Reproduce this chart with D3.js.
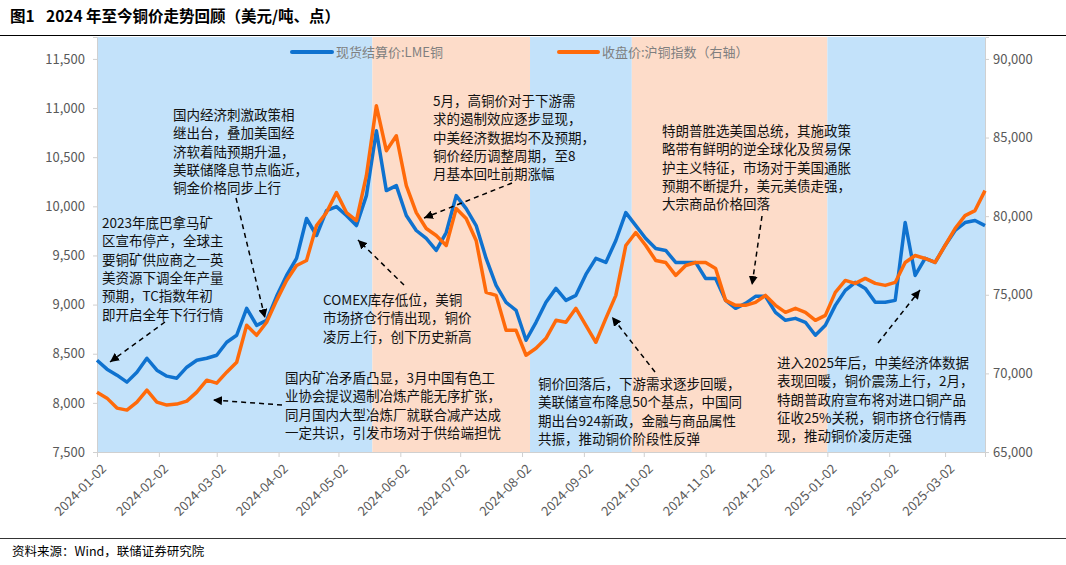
<!DOCTYPE html>
<html>
<head>
<meta charset="utf-8">
<script src="https://cdn.jsdelivr.net/npm/d3@7"></script>
<style>
  body { margin: 0; background: #fff; }
  text { font-family: "Noto Sans CJK SC", "Noto Sans", sans-serif; }
</style>
</head>
<body>
<div class="container"></div>
<script>
// Dates sampled every five days
const dates = [
  "2024-01-02","2024-01-07","2024-01-12","2024-01-17","2024-01-22","2024-01-27","2024-02-01","2024-02-06","2024-02-11","2024-02-16",
  "2024-02-21","2024-02-26","2024-03-02","2024-03-07","2024-03-12","2024-03-17","2024-03-22","2024-03-27","2024-04-01","2024-04-06",
  "2024-04-11","2024-04-16","2024-04-21","2024-04-26","2024-05-01","2024-05-06","2024-05-11","2024-05-16","2024-05-21","2024-05-26",
  "2024-05-31","2024-06-05","2024-06-10","2024-06-15","2024-06-20","2024-06-25","2024-06-30","2024-07-05","2024-07-10","2024-07-15",
  "2024-07-20","2024-07-25","2024-07-30","2024-08-04","2024-08-09","2024-08-14","2024-08-19","2024-08-24","2024-08-29","2024-09-03",
  "2024-09-08","2024-09-13","2024-09-18","2024-09-23","2024-09-28","2024-10-03","2024-10-08","2024-10-13","2024-10-18","2024-10-23",
  "2024-10-28","2024-11-02","2024-11-07","2024-11-12","2024-11-17","2024-11-22","2024-11-27","2024-12-02","2024-12-07","2024-12-12",
  "2024-12-17","2024-12-22","2024-12-27","2025-01-01","2025-01-06","2025-01-11","2025-01-16","2025-01-21","2025-01-26","2025-01-31",
  "2025-02-05","2025-02-10","2025-02-15","2025-02-20","2025-02-25","2025-03-02","2025-03-07","2025-03-12","2025-03-17","2025-03-22"
];
// LME copper settlement price (left axis)
const lme = [
  8434,8343,8282,8211,8312,8454,8332,8272,8251,8363,
  8434,8454,8485,8617,8688,8962,8789,8840,9084,9297,
  9470,9876,9703,9957,9997,9906,9804,10109,10769,10160,
  10211,9906,9754,9673,9551,9733,10109,9977,9804,9470,
  9195,9023,8942,8637,8820,9023,9165,9043,9094,9307,
  9470,9429,9652,9936,9804,9673,9571,9551,9429,9429,
  9429,9266,9266,9043,8962,9013,9084,9084,8921,8840,
  8860,8820,8688,8789,8992,9145,9226,9165,9023,9023,
  9043,9835,9297,9470,9429,9602,9754,9835,9856,9804
];
// SHFE copper index close (right axis)
const shfe = [
  68807,68426,67792,67665,68173,68934,68173,67982,68046,68236,
  68807,69568,69378,70076,70711,73058,72424,73249,74644,75913,
  76865,77182,79403,80228,81497,80228,79720,82576,87017,84162,
  85114,81941,80228,79213,78769,78134,80482,79847,78451,75152,
  74962,72741,72741,71155,71599,72233,73375,73249,74137,73058,
  71979,73502,74962,78134,78959,78134,77182,77055,76231,76865,
  77055,77055,76675,74644,74327,74327,74517,74962,74327,73883,
  74137,73883,73375,73692,75152,75913,75723,76040,75723,75596,
  75786,77055,77499,77309,77055,78134,79213,80038,80355,81624
];
const xTicks = ["2024-01-02","2024-02-02","2024-03-02","2024-04-02","2024-05-02","2024-06-02","2024-07-02","2024-08-02",
  "2024-09-02","2024-10-02","2024-11-02","2024-12-02","2025-01-02","2025-02-02","2025-03-02"];
const leftTicks = [7500,8000,8500,9000,9500,10000,10500,11000,11500];
const rightTicks = [65000,70000,75000,80000,85000,90000];
// Shaded phases
const phases = [
  {from: "2024-01-02", to: "2024-05-19", kind: "up"},
  {from: "2024-05-19", to: "2024-08-06", kind: "down"},
  {from: "2024-08-06", to: "2024-09-26", kind: "up"},
  {from: "2024-09-26", to: "2025-01-02", kind: "down"},
  {from: "2025-01-02", to: "2025-03-22", kind: "up"}
];
const notes = [
  {x: 102, y: 223, lines: ["2023年底巴拿马矿","区宣布停产，全球主","要铜矿供应商之一英","美资源下调全年产量","预期，TC指数年初","即开启全年下行行情"], arrow: [165,322,110,362]},
  {x: 173, y: 115, lines: ["国内经济刺激政策相","继出台，叠加美国经","济软着陆预期升温，","美联储降息节点临近，","铜金价格同步上行"], arrow: [236,198,265,318]},
  {x: 323, y: 300, lines: ["COMEX库存低位，美铜","市场挤仓行情出现，铜价","凌厉上行，创下历史新高"], arrow: [404,285,358,240]},
  {x: 433, y: 101, lines: ["5月，高铜价对于下游需","求的遏制效应逐步显现，","中美经济数据均不及预期，","铜价经历调整周期，至8","月基本回吐前期涨幅"], arrow: [512,183,424,218]},
  {x: 285, y: 378, lines: ["国内矿冶矛盾凸显，3月中国有色工","业协会提议遏制冶炼产能无序扩张，","同月国内大型冶炼厂就联合减产达成","一定共识，引发市场对于供给端担忧"], arrow: [282,405,213,400]},
  {x: 538, y: 384, lines: ["铜价回落后，下游需求逐步回暖，","美联储宣布降息50个基点，中国同","期出台924新政，金融与商品属性","共振，推动铜价阶段性反弹"], arrow: [655,372,612,317]},
  {x: 662, y: 131, lines: ["特朗普胜选美国总统，其施政策","略带有鲜明的逆全球化及贸易保","护主义特征，市场对于美国通胀","预期不断提升，美元美债走强，","大宗商品价格回落"], arrow: [762,216,752,285]},
  {x: 777, y: 363, lines: ["进入2025年后，中美经济体数据","表现回暖，铜价震荡上行，2月，","特朗普政府宣布将对进口铜产品","征收25%关税，铜市挤仓行情再","现，推动铜价凌厉走强"], arrow: [878,343,920,290]}
];

const width = 1066, height = 565;
const plot = {left: 97, right: 985, top: 37, bottom: 452};
const parse = d3.timeParse("%Y-%m-%d");

const svg = d3.select(".container").append("svg")
  .attr("width", width).attr("height", height);

const x = d3.scaleTime()
  .domain([parse("2024-01-02"), parse("2025-03-22")])
  .range([plot.left, plot.right]);
const yL = d3.scaleLinear().domain([7500, 11723]).range([plot.bottom, plot.top]);
const yR = d3.scaleLinear().domain([65000, 91395]).range([plot.bottom, plot.top]);

// Title and rules
svg.append("text").attr("x", 10).attr("y", 22)
  .attr("font-size", 15.5).attr("font-weight", "bold").attr("fill", "#000")
  .text("图1");
svg.append("text").attr("x", 46).attr("y", 22)
  .attr("font-size", 15.5).attr("font-weight", "bold").attr("fill", "#000")
  .text("2024 年至今铜价走势回顾（美元/吨、点）");
svg.append("line").attr("x1", 0).attr("x2", width).attr("y1", 35.5).attr("y2", 35.5)
  .attr("stroke", "#000").attr("stroke-width", 1);
svg.append("line").attr("x1", 0).attr("x2", width).attr("y1", 538.5).attr("y2", 538.5)
  .attr("stroke", "#000").attr("stroke-width", 0.8);
svg.append("text").attr("x", 12).attr("y", 556).attr("font-size", 12.5).attr("fill", "#000")
  .text("资料来源：Wind，联储证券研究院");

// Phase bands
svg.append("g").selectAll("rect").data(phases).enter().append("rect")
  .attr("x", d => x(parse(d.from)))
  .attr("width", d => x(parse(d.to)) - x(parse(d.from)))
  .attr("y", plot.top).attr("height", plot.bottom - plot.top)
  .attr("fill", d => d.kind === "up" ? "#c3e2fa" : "#fddcc9");

// Axes
const fmt = d3.format(",");
const axL = svg.append("g").attr("transform", `translate(${plot.left},0)`)
  .call(d3.axisLeft(yL).tickValues(leftTicks).tickFormat(fmt).tickSize(4));
const axR = svg.append("g").attr("transform", `translate(${plot.right},0)`)
  .call(d3.axisRight(yR).tickValues(rightTicks).tickFormat(fmt).tickSize(4));
[axL, axR].forEach(a => {
  a.select(".domain").attr("stroke", "#d0d0d0");
  a.selectAll(".tick line").attr("stroke", "#d0d0d0");
  a.selectAll("text").attr("font-size", 13).attr("fill", "#595959")
    .attr("font-family", "Liberation Sans, Arial, sans-serif");
});
axL.selectAll("text").attr("x", -12);
axR.selectAll("text").attr("x", 8);
const axB = svg.append("g").attr("transform", `translate(0,${plot.bottom})`)
  .call(d3.axisBottom(x).tickValues(xTicks.map(parse)).tickFormat(d3.timeFormat("%Y-%m-%d")).tickSize(5));
axB.select(".domain").attr("stroke", "#d0d0d0");
axB.selectAll(".tick line").attr("stroke", "#d0d0d0");
axB.selectAll("text").attr("font-size", 13).attr("fill", "#595959")
  .attr("font-family", "Liberation Sans, Arial, sans-serif")
  .attr("text-anchor", "end").attr("dx", 0).attr("dy", 0)
  .attr("transform", "translate(4,12) rotate(-45)");

// Lines
const rows = dates.map((d, i) => ({date: parse(d), lme: lme[i], shfe: shfe[i]}));
svg.append("path").datum(rows)
  .attr("fill", "none").attr("stroke", "#0f72cf").attr("stroke-width", 3.5).attr("stroke-linejoin", "round")
  .attr("d", d3.line().x(d => x(d.date)).y(d => yL(d.lme)));
svg.append("path").datum(rows)
  .attr("fill", "none").attr("stroke", "#ff6a0a").attr("stroke-width", 3.5).attr("stroke-linejoin", "round")
  .attr("d", d3.line().x(d => x(d.date)).y(d => yR(d.shfe)));

// Legend
const legend = svg.append("g");
legend.append("line").attr("x1", 292).attr("x2", 332).attr("y1", 52).attr("y2", 52)
  .attr("stroke", "#0f72cf").attr("stroke-width", 4).attr("stroke-linecap", "round");
legend.append("text").attr("x", 336).attr("y", 57).attr("font-size", 13).attr("fill", "#7f7f7f")
  .text("现货结算价:LME铜");
legend.append("line").attr("x1", 559).attr("x2", 598).attr("y1", 52).attr("y2", 52)
  .attr("stroke", "#ff6a0a").attr("stroke-width", 4).attr("stroke-linecap", "round");
legend.append("text").attr("x", 602).attr("y", 57).attr("font-size", 13).attr("fill", "#7f7f7f")
  .text("收盘价:沪铜指数（右轴）");

// Annotations
svg.append("defs").append("marker")
  .attr("id", "arr").attr("viewBox", "0 0 10 10").attr("refX", 10).attr("refY", 5)
  .attr("markerWidth", 9).attr("markerHeight", 9).attr("markerUnits", "userSpaceOnUse")
  .attr("orient", "auto")
  .append("path").attr("d", "M0,0L10,5L0,10z").attr("fill", "#000");
const ng = svg.append("g");
notes.forEach(n => {
  const t = ng.append("text").attr("font-size", 13.5).attr("fill", "#111");
  n.lines.forEach((l, i) => {
    t.append("tspan").attr("x", n.x).attr("y", n.y + i * 18.3 + 5).text(l);
  });
  ng.append("line")
    .attr("x1", n.arrow[0]).attr("y1", n.arrow[1]).attr("x2", n.arrow[2]).attr("y2", n.arrow[3])
    .attr("stroke", "#000").attr("stroke-width", 1.5).attr("stroke-dasharray", "5,4")
    .attr("marker-end", "url(#arr)");
});
</script>
</body>
</html>
